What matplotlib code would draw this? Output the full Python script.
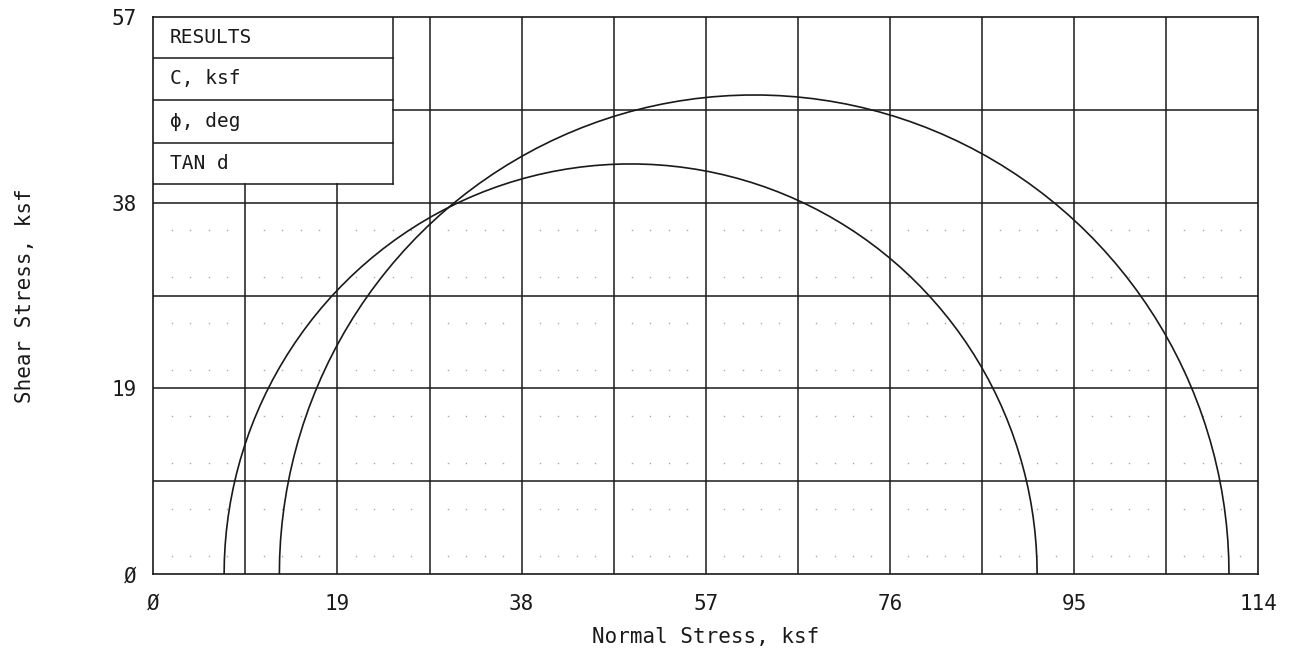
import numpy as np
import matplotlib.pyplot as plt

# Principal stresses for each test (ksf)
sigma3 = [7.3, 13.0]
sigma1 = [91.2, 111.0]

# Axis ticks and labels
x_ticks = [0, 19, 38, 57, 76, 95, 114]
x_tick_labels = ['Ø', '19', '38', '57', '76', '95', '114']
y_ticks = [0, 19, 38, 57]
y_tick_labels = ['Ø', '19', '38', '57']

# Results table rows
table_rows = ['RESULTS', 'C, ksf', 'ϕ, deg', 'TAN d']

plt.rcParams['font.family'] = ['DejaVu Sans Mono', 'DejaVu Sans']
ink = '#1a1a1a'

fig = plt.figure(figsize=(12.91, 6.55), dpi=100)
ax = fig.add_axes([0.1188, 0.1232, 0.8557, 0.8513])
ax.set_xlim(0, 114)
ax.set_ylim(0, 57)

# results box geometry (data units)
box_right = 24.7
box_lines = [57, 52.8, 48.5, 44.1, 39.9]

# major grid, every 9.5 ksf; lines under the box stop at its edge
step = 9.5
for gx in np.arange(step, 114, step):
    y1 = box_lines[-1] if gx < box_right else 57
    ax.plot([gx, gx], [0, y1], color=ink, lw=1.1, zorder=2)
for gy in np.arange(step, 57, step):
    x0 = box_right if gy > box_lines[-1] else 0
    ax.plot([x0, 114], [gy, gy], color=ink, lw=1.1, zorder=2)

# faint dot pattern in the lower part of the grid
dot_x = [v for v in np.arange(1.9, 114, 1.9) if abs(v / step - round(v / step)) > 0.01]
dot_y = []
for k in range(4):
    dot_y += [k * step + 1.9, k * step + 6.65]
dx, dy = np.meshgrid(dot_x, dot_y)
ax.plot(dx.ravel(), dy.ravel(), ls='none', marker='s', ms=1.0, mec='none',
        mfc='#a8a8a8', zorder=1)

# results box
ax.plot([box_right, box_right], [box_lines[-1], 57], color=ink, lw=1.1, zorder=3)
for by in box_lines[1:]:
    ax.plot([0, box_right], [by, by], color=ink, lw=1.1, zorder=3)
for i, label in enumerate(table_rows):
    yc = (box_lines[i] + box_lines[i + 1]) / 2
    ax.text(1.7, yc, label, fontsize=14, color=ink, va='center', ha='left', zorder=4)

# Mohr circles
theta = np.linspace(0, np.pi, 90)
for s3, s1 in zip(sigma3, sigma1):
    c = (s1 + s3) / 2
    r = (s1 - s3) / 2
    ax.plot(c + r * np.cos(theta), r * np.sin(theta), color=ink, lw=1.2, zorder=5)

for s in ax.spines.values():
    s.set_color(ink)
    s.set_linewidth(1.2)

ax.set_xticks(x_ticks)
ax.set_xticklabels(x_tick_labels)
ax.set_yticks(y_ticks)
ax.set_yticklabels(y_tick_labels)
ax.tick_params(axis='x', length=0, pad=14, labelsize=15, labelcolor=ink)
ax.tick_params(axis='y', length=0, pad=12, labelsize=15, labelcolor=ink)

ax.set_xlabel('Normal Stress, ksf', fontsize=15, color=ink)
ax.xaxis.label.set_va('center')
ax.xaxis.set_label_coords(0.5, -0.1125)
ax.set_ylabel('Shear Stress, ksf', fontsize=15, color=ink)
ax.yaxis.label.set_va('center')
ax.yaxis.set_label_coords(-0.116, 0.5)

fig.savefig('out.png', dpi=100)
